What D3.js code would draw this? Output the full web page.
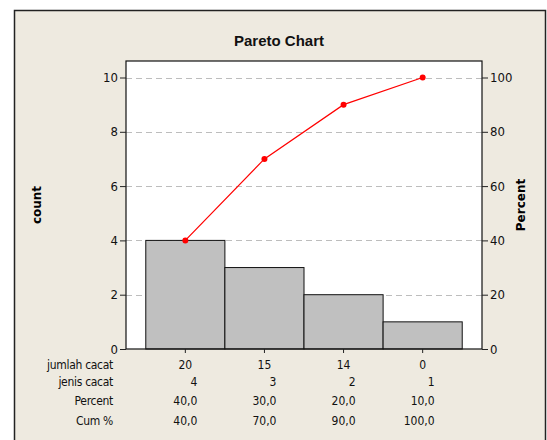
<!DOCTYPE html>
<html>
<head>
<meta charset="utf-8">
<script src="https://cdn.jsdelivr.net/npm/d3@7"></script>
<style>
  html, body { margin: 0; padding: 0; background: #fff; }
  svg { display: block; }
  .narrow { font-family: "DejaVu Sans", sans-serif; font-stretch: condensed; }
</style>
</head>
<body>
<div id="chart"></div>
<script>
// Chart data
const jumlahCacat = ['20', '15', '14', '0'];
const jenisCacat  = ['4', '3', '2', '1'];
const counts      = [4, 3, 2, 1];
const percent     = ['40,0', '30,0', '20,0', '10,0'];
const cumPct      = [40, 70, 90, 100];
const cumLabels   = ['40,0', '70,0', '90,0', '100,0'];
const leftTicks   = [0, 2, 4, 6, 8, 10];
const rightTicks  = [0, 20, 40, 60, 80, 100];
const rowLabels   = ['jumlah cacat', 'jenis cacat', 'Percent', 'Cum %'];

const width = 547, height = 440;
const plot = { left: 126, right: 482, top: 61, bottom: 349 };

const svg = d3.select('#chart').append('svg')
  .attr('width', width).attr('height', height);

// outer frame
svg.append('rect')
  .attr('x', 14.5).attr('y', 10.5).attr('width', 531).attr('height', 440)
  .attr('fill', '#eeeae0').attr('stroke', '#222').attr('stroke-width', 1.5);

svg.append('text')
  .attr('x', 279).attr('y', 46)
  .attr('text-anchor', 'middle')
  .attr('font-family', 'Liberation Sans, Arial, sans-serif')
  .attr('font-weight', 'bold').attr('font-size', 15)
  .attr('fill', '#111')
  .text('Pareto Chart');

const x = d3.scaleBand()
  .domain(d3.range(counts.length))
  .range([plot.left, plot.right])
  .paddingInner(0).paddingOuter(0.25);
const y = d3.scaleLinear().domain([0, 10]).range([plot.bottom, 77.5]);
const yPct = d3.scaleLinear().domain([0, 100]).range([plot.bottom, 77.5]);

// plot background
svg.append('rect')
  .attr('x', plot.left).attr('y', plot.top)
  .attr('width', plot.right - plot.left).attr('height', plot.bottom - plot.top)
  .attr('fill', '#fff');

// gridlines
svg.append('g').selectAll('line').data(leftTicks.filter(d => d > 0)).join('line')
  .attr('x1', plot.left).attr('x2', plot.right)
  .attr('y1', d => Math.round(y(d)) + 0.5).attr('y2', d => Math.round(y(d)) + 0.5)
  .attr('stroke', '#bdbdbd').attr('stroke-dasharray', '6 4');

// bars
svg.append('g').selectAll('rect').data(counts).join('rect')
  .attr('x', (d, i) => x(i))
  .attr('y', d => y(d))
  .attr('width', x.bandwidth())
  .attr('height', d => y(0) - y(d))
  .attr('fill', '#c0c0c0').attr('stroke', '#111').attr('stroke-width', 1);

// plot frame
svg.append('rect')
  .attr('x', plot.left).attr('y', plot.top)
  .attr('width', plot.right - plot.left).attr('height', plot.bottom - plot.top)
  .attr('fill', 'none').attr('stroke', '#111').attr('stroke-width', 1.2);

// cumulative line
const line = d3.line()
  .x((d, i) => x(i) + x.bandwidth() / 2)
  .y(d => yPct(d));
svg.append('path').datum(cumPct)
  .attr('d', line).attr('fill', 'none').attr('stroke', '#ff0000').attr('stroke-width', 1.2);
svg.append('g').selectAll('circle').data(cumPct).join('circle')
  .attr('cx', (d, i) => x(i) + x.bandwidth() / 2)
  .attr('cy', d => yPct(d))
  .attr('r', 3).attr('fill', '#ff0000');

// axes
const axisLeft = svg.append('g')
  .attr('transform', `translate(${plot.left},0)`)
  .call(d3.axisLeft(y).tickValues(leftTicks).tickSize(6).tickPadding(2));
const axisRight = svg.append('g')
  .attr('transform', `translate(${plot.right},0)`)
  .call(d3.axisRight(yPct).tickValues(rightTicks).tickSize(6).tickPadding(2));
const axisBottom = svg.append('g')
  .attr('transform', `translate(0,${plot.bottom})`)
  .call(d3.axisBottom(x).tickSize(4).tickFormat(''));
[axisLeft, axisRight, axisBottom].forEach(a => {
  a.select('.domain').remove();
  a.selectAll('line').attr('stroke', '#222');
  a.selectAll('text').attr('class', 'narrow').attr('font-family', null)
    .attr('font-size', 13).attr('fill', '#111');
});

// axis titles
svg.append('text')
  .attr('transform', `translate(41,${(plot.top + plot.bottom) / 2}) rotate(-90)`)
  .attr('text-anchor', 'middle')
  .attr('font-family', 'DejaVu Sans, sans-serif').attr('font-weight', 'bold').attr('font-size', 12)
  .text('count');
svg.append('text')
  .attr('transform', `translate(525,${(plot.top + plot.bottom) / 2}) rotate(-90)`)
  .attr('text-anchor', 'middle')
  .attr('font-family', 'DejaVu Sans, sans-serif').attr('font-weight', 'bold').attr('font-size', 12)
  .text('Percent');

// table under the chart
const rowY = [369, 386, 405, 425];
const table = svg.append('g').attr('class', 'narrow').attr('font-size', 12).attr('fill', '#111');
table.selectAll('text.row').data(rowLabels).join('text')
  .attr('class', 'row')
  .attr('x', 113).attr('y', (d, i) => rowY[i])
  .attr('text-anchor', 'end')
  .attr('letter-spacing', -0.3)
  .text(d => d);

const rows = [jumlahCacat, jenisCacat, percent, cumLabels];
rows.forEach((vals, r) => {
  table.selectAll(`text.v${r}`).data(vals).join('text')
    .attr('class', `v${r}`)
    .attr('x', (d, i) => x(i) + x.bandwidth() / 2 + (r === 0 ? 0 : 12))
    .attr('y', rowY[r])
    .attr('text-anchor', r === 0 ? 'middle' : 'end')
    .text(d => d);
});
</script>
</body>
</html>
